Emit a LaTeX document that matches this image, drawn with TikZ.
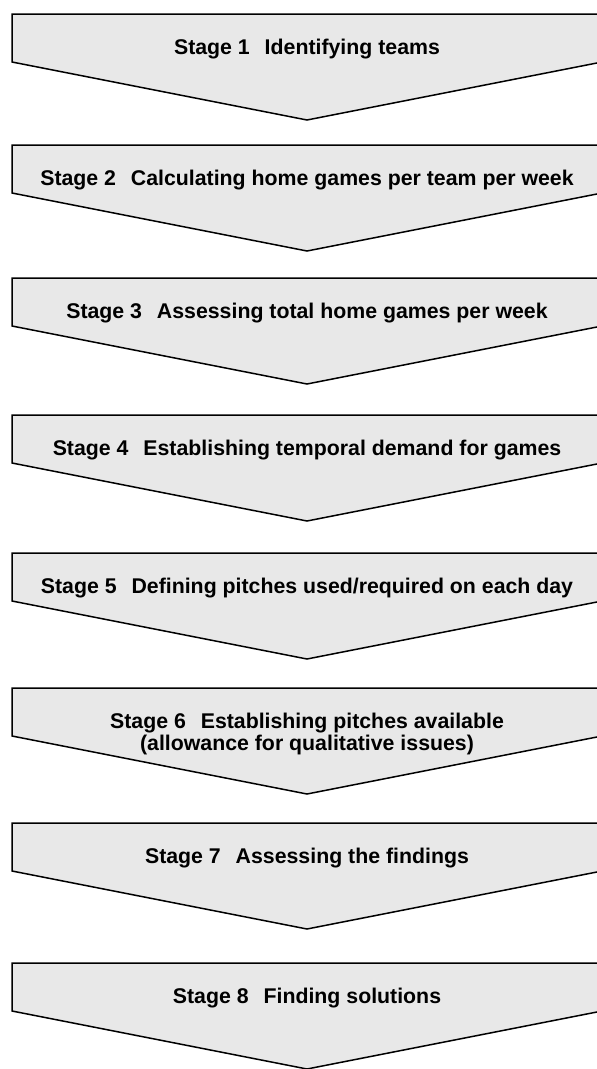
\documentclass[tikz,border=0pt]{standalone}
\usepackage{fontspec}
\setmainfont{Liberation Sans}
\usepackage{tikz}
\usetikzlibrary{positioning}
\definecolor{stipple}{RGB}{232,232,232}

\begin{document}
\begin{tikzpicture}[x=1pt, y=-1pt,
  chevron/.style={draw=black, line width=1.5pt, fill=stipple, line join=miter},
  stagetext/.style={font=\fontsize{21.3}{22}\selectfont\bfseries,
    anchor=base, inner sep=0pt, align=center}
]
\useasboundingbox (0,0) rectangle (597,1069);
\clip (0,0) rectangle (597,1069);
% chevrons, top edge of each
\foreach \t in {14,145,278,415,553,688,823,963}
  \draw[chevron] (12,\t) -- ++(590,0) -- ++(0,48) -- ++(-295,58) -- ++(-295,-58) -- cycle;
\node[stagetext] (s1) at (307,54)  {Stage 1\hspace{0.7em}Identifying teams};
\node[stagetext] (s2) at (307,185) {Stage 2\hspace{0.7em}Calculating home games per team per week};
\node[stagetext] (s3) at (307,318) {Stage 3\hspace{0.7em}Assessing total home games per week};
\node[stagetext] (s4) at (307,455) {Stage 4\hspace{0.7em}Establishing temporal demand for games};
\node[stagetext] (s5) at (307,593) {Stage 5\hspace{0.7em}Defining pitches used/required on each day};
\node[stagetext] (s6) at (307,750) {Stage 6\hspace{0.7em}Establishing pitches available\\(allowance for qualitative issues)};
\node[stagetext] (s7) at (307,863) {Stage 7\hspace{0.7em}Assessing the findings};
\node[stagetext] (s8) at (307,1003) {Stage 8\hspace{0.7em}Finding solutions};
\end{tikzpicture}
\end{document}
